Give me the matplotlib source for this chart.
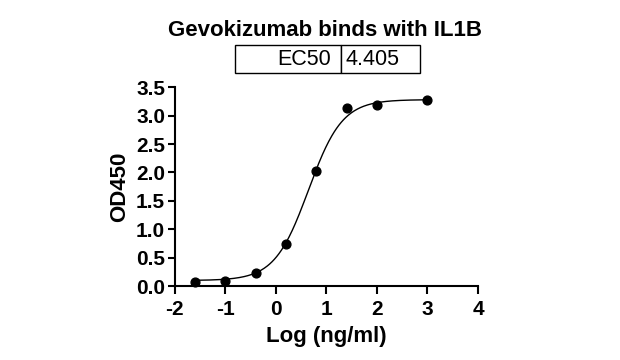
import numpy as np
import matplotlib
matplotlib.use('Agg')
import matplotlib.pyplot as plt

plt.rcParams['font.family'] = ['Liberation Sans', 'DejaVu Sans']
plt.rcParams['axes.unicode_minus'] = False

# data
log_conc = [-1.6, -1.0, -0.4, 0.2, 0.8, 1.4, 2.0, 3.0]
od450 = [0.08, 0.10, 0.24, 0.74, 2.02, 3.14, 3.18, 3.28]

# 4PL fit parameters
ec50 = 4.405
bottom, top, hill = 0.10, 3.28, 1.3

xfit = np.linspace(-1.6, 3.0, 300)
yfit = bottom + (top - bottom) / (1 + 10 ** ((np.log10(ec50) - xfit) * hill))

fig = plt.figure(figsize=(6.2, 3.6), dpi=100)
ax = fig.add_axes([0.282, 0.205, 0.489, 0.553])

ax.plot(xfit, yfit, color='black', lw=1.0)
ax.scatter(log_conc, od450, s=40, color='black', zorder=3, clip_on=False)

ax.set_xlim(-2, 4)
ax.set_ylim(0, 3.5)
ax.set_xticks(range(-2, 5))
ax.set_yticks(np.arange(0, 3.6, 0.5))
ax.set_yticklabels(['%.1f' % v for v in np.arange(0, 3.6, 0.5)])
for s in ['top', 'right']:
    ax.spines[s].set_visible(False)
for s in ['left', 'bottom']:
    ax.spines[s].set_linewidth(1.5)
ax.tick_params(axis='x', width=1.5, length=6, labelsize=15, pad=4)
ax.tick_params(axis='y', width=1.5, length=5, labelsize=15, pad=2)
for lab in ax.get_xticklabels() + ax.get_yticklabels():
    lab.set_fontweight('bold')

ax.set_xlabel('Log (ng/ml)', fontsize=16, fontweight='bold', labelpad=5)
ax.set_ylabel('OD450', fontsize=16, fontweight='bold', labelpad=4)

fig.text(0.525, 0.915, 'Gevokizumab binds with IL1B', ha='center', va='center',
         fontsize=16, fontweight='bold')

tab = ax.table(cellText=[['EC50', '4.405']], cellLoc='right',
               bbox=[0.197, 1.07, 0.611, 0.14])
tab.auto_set_font_size(False)
for (r, c), cell in tab.get_celld().items():
    cell.set_linewidth(1.0)
    cell.get_text().set_fontsize(15.5)
c0 = tab.get_celld()[(0, 0)]
c1 = tab.get_celld()[(0, 1)]
c0.set_width(0.352)
c1.set_width(0.259)
c0.PAD = 0.1
c1.PAD = 0.05
c1._loc = 'left'
c1.get_text().set_ha('left')

fig.savefig('out.png', dpi=100)
